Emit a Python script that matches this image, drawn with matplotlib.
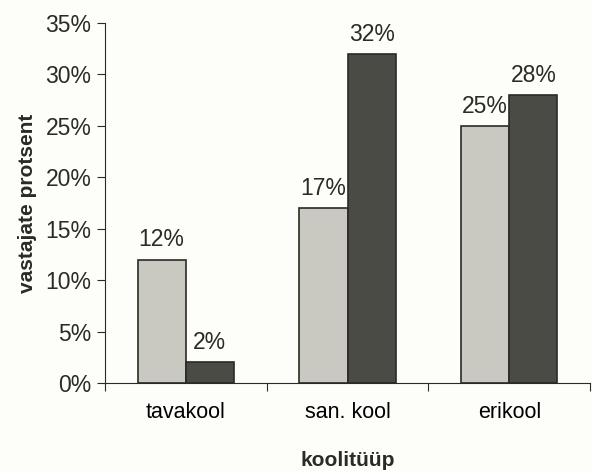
import numpy as np
import matplotlib.pyplot as plt
from matplotlib.ticker import FuncFormatter, MultipleLocator

# Andmed
kategooriad = ["tavakool", "san. kool", "erikool"]
hele = [12, 17, 25]
tume = [2, 32, 28]

plt.rcParams["font.family"] = ["Liberation Sans", "DejaVu Sans"]

fig = plt.figure(figsize=(5.92, 4.71), dpi=100, facecolor="#fdfdf9")
ax = fig.add_axes([0.177, 0.187, 0.82, 0.764])
ax.set_facecolor("#fdfdf9")

x = np.arange(len(kategooriad))
w = 0.297

b1 = ax.bar(x - w / 2, hele, w, color="#c9c9c1", edgecolor="#2a2a26", linewidth=1.2)
b2 = ax.bar(x + w / 2, tume, w, color="#4b4b45", edgecolor="#2a2a26", linewidth=1.2)

for bars in (b1, b2):
    for b in bars:
        ax.annotate(f"{b.get_height():.0f}%",
                    (b.get_x() + b.get_width() / 2, b.get_height()),
                    xytext=(0, 6), textcoords="offset points",
                    ha="center", va="bottom", fontsize=16.5, color="#2a2a26")

ax.set_xlim(-0.5, 2.5)
ax.set_ylim(0, 35)
ax.yaxis.set_major_locator(MultipleLocator(5))
ax.yaxis.set_major_formatter(FuncFormatter(lambda v, p: f"{v:.0f}%"))

ax.set_xticks([-0.5, 0.5, 1.5, 2.5])
ax.set_xticklabels([])
ax.set_xticks(x, minor=True)
ax.set_xticklabels(kategooriad, minor=True)
ax.tick_params(axis="x", which="minor", length=0, pad=14, labelsize=15.5)
ax.tick_params(axis="x", which="major", length=6, direction="out", color="#2a2a26")
ax.tick_params(axis="y", length=6, labelsize=16.5, color="#2a2a26", labelcolor="#2a2a26")
ax.tick_params(axis="x", labelcolor="#2a2a26")

ax.spines["top"].set_visible(False)
ax.spines["right"].set_visible(False)
ax.spines["left"].set_color("#2a2a26")
ax.spines["bottom"].set_color("#2a2a26")

ax.set_ylabel("vastajate protsent", fontsize=15, fontweight="bold", color="#2a2a26", labelpad=6)
ax.set_xlabel("koolitüüp", fontsize=15, fontweight="bold", color="#2a2a26", labelpad=20)

fig.savefig("out.png", dpi=100, facecolor=fig.get_facecolor())
